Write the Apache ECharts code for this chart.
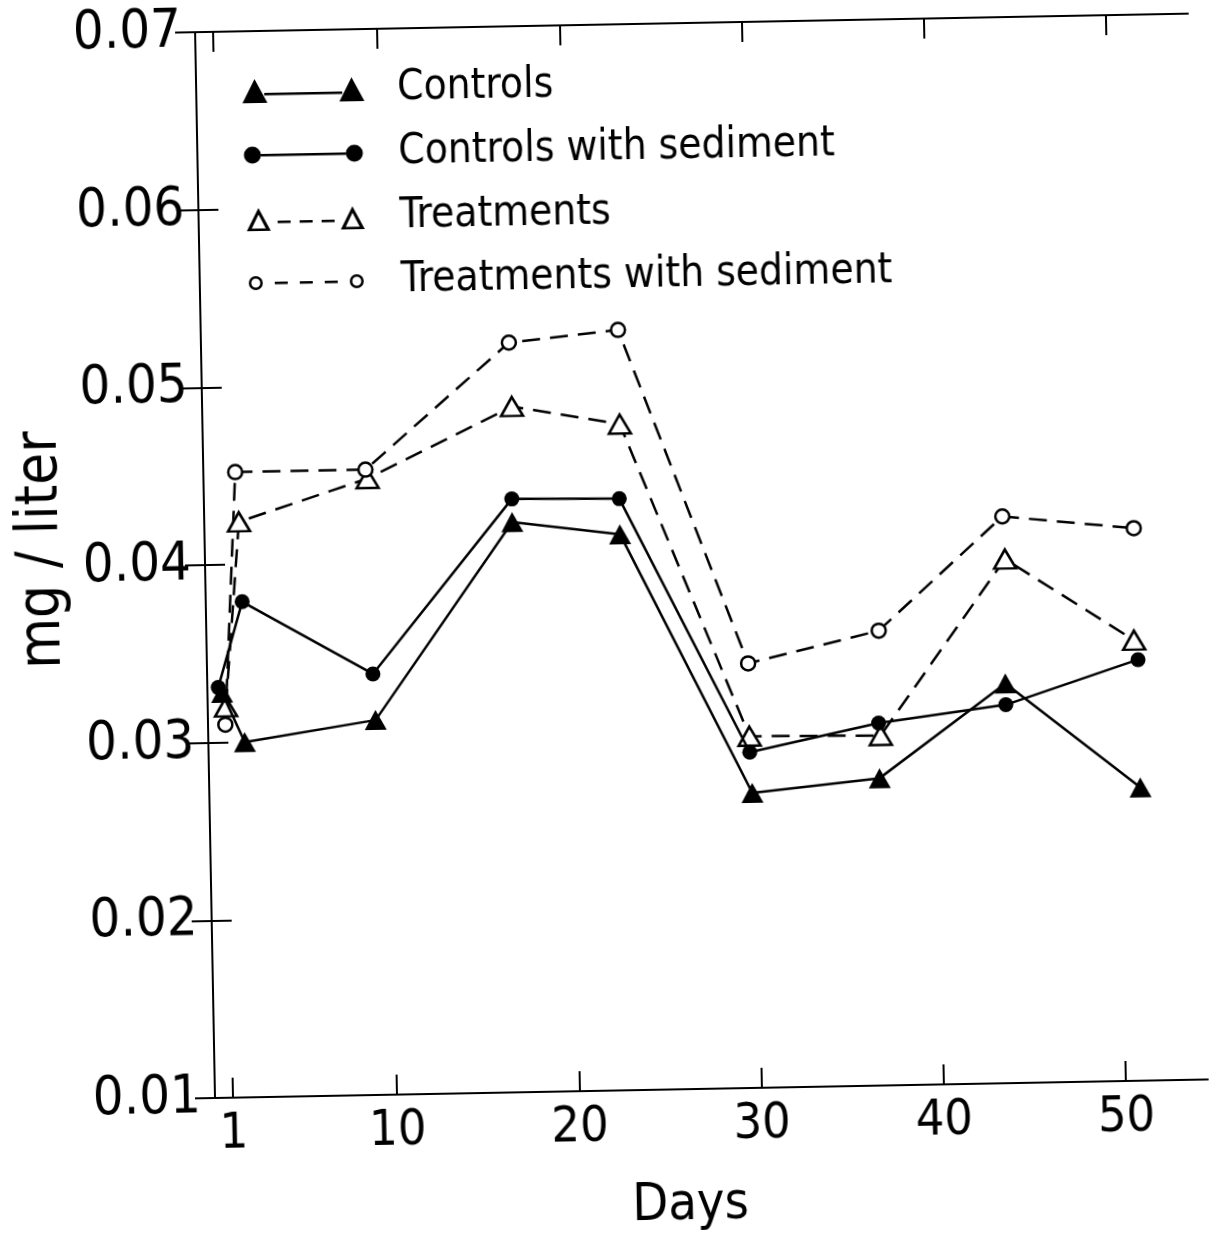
<!DOCTYPE html>
<html>
<head>
<meta charset="utf-8">
<title>mg / liter vs Days</title>
<script src="https://cdn.jsdelivr.net/npm/echarts@6/dist/echarts.min.js"></script>
<style>
  html, body { margin: 0; padding: 0; background: #fff; overflow: hidden; }
  #chart {
    width: 1211px; height: 1270px;
    /* the plotted sheet sits slightly turned on the page */
    transform: rotate(-1.07deg);
    transform-origin: 215px 1098px;
  }
</style>
</head>
<body>
<div id="chart"></div>
<script>
// Sampling days and concentrations (mg/liter) for each group
const controlsDays = [0.8, 2.0, 9.2, 16.9, 22.8, 29.8, 36.8, 43.8, 51.1];
const controlsVals = [0.0328, 0.0300, 0.0311, 0.0421, 0.0413, 0.0266, 0.0273, 0.0325, 0.0265];

const controlsSedDays = [0.6, 2.0, 9.1, 16.9, 22.8, 29.7, 36.8, 43.8, 51.1];
const controlsSedVals = [0.0331, 0.0379, 0.0337, 0.0434, 0.0433, 0.0289, 0.0304, 0.0313, 0.0337];

const treatDays = [1.0, 1.9, 9.0, 17.0, 22.9, 29.7, 36.9, 43.9, 50.9];
const treatVals = [0.0320, 0.0424, 0.0447, 0.0486, 0.0475, 0.0298, 0.0297, 0.0395, 0.0348];

const treatSedDays = [0.95, 1.75, 8.9, 16.9, 22.9, 29.7, 36.9, 43.8, 51.0];
const treatSedVals = [0.0310, 0.0452, 0.0452, 0.0522, 0.0528, 0.0339, 0.0356, 0.0419, 0.0411];

const seriesNames = ['Controls', 'Controls with sediment', 'Treatments', 'Treatments with sediment'];
const dayTicks = [1, 10, 20, 30, 40, 50];

const FONT = "'DejaVu Sans Condensed', 'Liberation Sans Narrow', 'DejaVu Sans', sans-serif";

const pair = (xs, ys) => xs.map((x, i) => [x, ys[i]]);

// Legend keys: marker - line - marker, each drawn as one path in a 122 x 26 box.
// The two tiny specks at opposite corners pin the path's bounds to the full box.
const BOX = ' M0 0 L0.1 0 L0.1 0.1 Z M121.9 26 L122 26 L122 25.9 Z';
const keyControls =
  'path://M0 25 L12.5 1 L25 25 Z M97 25 L109.5 1 L122 25 Z M22 15 L100 15 L100 17.5 L22 17.5 Z' + BOX;
const keyControlsSed =
  'path://M0.5 13 A8.5 8.5 0 1 1 17.5 13 A8.5 8.5 0 1 1 0.5 13 Z ' +
  'M102.5 13 A8.5 8.5 0 1 1 119.5 13 A8.5 8.5 0 1 1 102.5 13 Z ' +
  'M17.5 12 L102.5 12 L102.5 14.5 L17.5 14.5 Z' + BOX;
const keyTreat =
  'path://M2 25 L14 2 L26 25 Z M7 22.5 L21 22.5 L14 8.5 Z ' +
  'M96 25 L108 2 L120 25 Z M101 22.5 L115 22.5 L108 8.5 Z ' +
  'M33 15 L46 15 L46 17.5 L33 17.5 Z M55 15 L68 15 L68 17.5 L55 17.5 Z M77 15 L90 15 L90 17.5 L77 17.5 Z' + BOX;
const keyTreatSed =
  'path://M3 13 A7 7 0 1 1 17 13 A7 7 0 1 1 3 13 Z M5.5 13 A4.5 4.5 0 1 0 14.5 13 A4.5 4.5 0 1 0 5.5 13 Z ' +
  'M104 13 A7 7 0 1 1 118 13 A7 7 0 1 1 104 13 Z M106.5 13 A4.5 4.5 0 1 0 115.5 13 A4.5 4.5 0 1 0 106.5 13 Z ' +
  'M29 12 L42 12 L42 14.5 L29 14.5 Z M54 12 L67 12 L67 14.5 L54 14.5 Z M79 12 L92 12 L92 14.5 L79 14.5 Z' + BOX;

const keyStyle = { color: '#000', borderWidth: 0 };

const chart = echarts.init(document.getElementById('chart'), null, { renderer: 'canvas' });

const axisLine = { show: true, lineStyle: { color: '#000', width: 2 } };
const inTicks = { show: true, inside: true, length: 20, lineStyle: { color: '#000', width: 2 } };

chart.setOption({
  animation: false,
  backgroundColor: '#fff',
  grid: {
    left: 215, right: 3, top: 32, bottom: 172,
    containLabel: false, outerBoundsMode: 'none'
  },
  legend: {
    orient: 'vertical',
    left: 256,
    top: 66,
    itemWidth: 122,
    itemHeight: 26,
    itemGap: 22,
    selectedMode: false,
    itemStyle: keyStyle,
    textStyle: { fontFamily: FONT, fontSize: 42, color: '#000', padding: [0, 0, 0, 28] },
    data: [
      { name: seriesNames[0], icon: keyControls, itemStyle: keyStyle },
      { name: seriesNames[1], icon: keyControlsSed, itemStyle: keyStyle },
      { name: seriesNames[2], icon: keyTreat, itemStyle: keyStyle },
      { name: seriesNames[3], icon: keyTreatSed, itemStyle: keyStyle }
    ]
  },
  xAxis: [
    {
      type: 'value', position: 'bottom', min: 0, max: 54.5,
      axisLine, axisTick: Object.assign({ customValues: dayTicks }, inTicks),
      axisLabel: {
        customValues: dayTicks, margin: 12,
        fontFamily: FONT, fontSize: 50, color: '#000'
      },
      splitLine: { show: false },
      name: 'Days', nameLocation: 'middle', nameGap: 90,
      nameTextStyle: { fontFamily: FONT, fontSize: 52, color: '#000', padding: [0, 46, 0, 0] }
    },
    {
      type: 'value', position: 'top', min: 0, max: 54.5,
      axisLine, axisTick: Object.assign({ customValues: dayTicks }, inTicks),
      axisLabel: { show: false }, splitLine: { show: false }
    }
  ],
  yAxis: [
    {
      type: 'value', position: 'left', min: 0.01, max: 0.07, interval: 0.01,
      axisLine, axisTick: inTicks,
      axisLabel: {
        margin: 14, fontFamily: FONT, fontSize: 54, color: '#000',
        formatter: v => v.toFixed(2)
      },
      splitLine: { show: false },
      name: 'mg / liter', nameLocation: 'middle', nameGap: 126,
      nameTextStyle: { fontFamily: FONT, fontSize: 58, color: '#000', padding: [0, 0, 0, 36] }
    },
    {
      type: 'value', position: 'right', min: 0.01, max: 0.07, interval: 0.01,
      axisLine, axisTick: inTicks,
      axisLabel: { show: false }, splitLine: { show: false }
    }
  ],
  series: [
    {
      name: seriesNames[0], type: 'line', data: pair(controlsDays, controlsVals),
      symbol: 'triangle', symbolSize: [22, 20],
      lineStyle: { color: '#000', width: 2.5, type: 'solid' },
      itemStyle: { color: '#000', borderWidth: 0 }, z: 4
    },
    {
      name: seriesNames[1], type: 'line', data: pair(controlsSedDays, controlsSedVals),
      symbol: 'circle', symbolSize: 15,
      lineStyle: { color: '#000', width: 2.5, type: 'solid' },
      itemStyle: { color: '#000', borderWidth: 0 }, z: 4
    },
    {
      name: seriesNames[2], type: 'line', data: pair(treatDays, treatVals),
      symbol: 'triangle', symbolSize: [22, 19],
      lineStyle: { color: '#000', width: 2.5, type: [18, 10] },
      itemStyle: { color: '#fff', borderColor: '#000', borderWidth: 2.5 }, z: 3
    },
    {
      name: seriesNames[3], type: 'line', data: pair(treatSedDays, treatSedVals),
      symbol: 'circle', symbolSize: 14,
      lineStyle: { color: '#000', width: 2.5, type: [18, 10] },
      itemStyle: { color: '#fff', borderColor: '#000', borderWidth: 2.5 }, z: 3
    }
  ]
});
</script>
</body>
</html>
